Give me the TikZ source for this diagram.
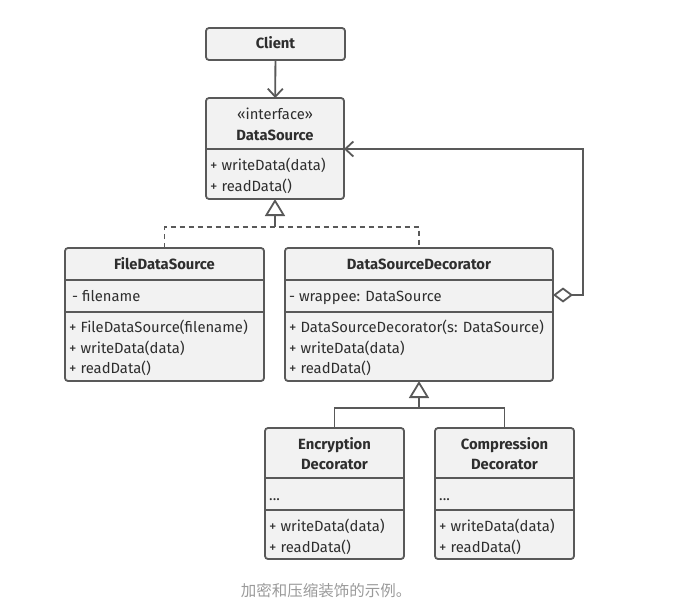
\documentclass[tikz,border=0pt]{standalone}
\usepackage{fontspec}
\setmainfont{Fira Sans}
\newfontfamily\cjk{Noto Sans CJK SC}
\usetikzlibrary{arrows.meta}
\definecolor{linec}{HTML}{595959}
\definecolor{boxfill}{HTML}{F2F2F2}
\definecolor{textc}{HTML}{2E2E2E}
\definecolor{capc}{HTML}{9A9A9A}

\begin{document}
\begin{tikzpicture}[x=1pt,y=-1pt,
  umlbox/.style={draw=linec, fill=boxfill, line width=1.8pt, rounded corners=3pt,
    anchor=north west, inner sep=0pt, outer sep=0pt},
  divider/.style={draw=linec, line width=1.8pt},
  conn/.style={draw=linec, line width=1.8pt},
  realize/.style={conn, dash pattern=on 5pt off 4pt},
  title/.style={anchor=base, inner sep=0pt, text=textc,
    font=\fontsize{14.8}{17}\selectfont\bfseries},
  stereo/.style={anchor=base, inner sep=0pt, text=textc,
    font=\fontsize{14.8}{17}\selectfont},
  member/.style={anchor=base west, inner sep=0pt, text=textc,
    font=\fontsize{14.8}{17}\selectfont},
  openarrow/.style={-{Straight Barb[length=8pt, width=15pt, line width=1.8pt]}},
  inherit/.style={-{Triangle[open, length=17pt, width=20pt, line width=1.8pt, fill=white]}},
]
\useasboundingbox (0,0) rectangle (695,615);

% Client
\node[umlbox, minimum width=139pt, minimum height=32pt] (client) at (206,28) {};
\node[title] (clientT) at (275.5,49) {Client};

% DataSource interface
\node[umlbox, minimum width=138pt, minimum height=101pt] (ds) at (206,98) {};
\draw[divider] (ds.west |- 0,149) -- (ds.east |- 0,149);
\node[stereo] (dsS) at (275,119) {«interface»};
\node[title] (dsT) at (275,140) {DataSource};
\node[member] (dsM1) at (210,170) {+ writeData(data)};
\node[member] (dsM2) at (210,191) {+ readData()};

% FileDataSource
\node[umlbox, minimum width=199pt, minimum height=133pt] (fds) at (65,248) {};
\draw[divider] (fds.west |- 0,280) -- (fds.east |- 0,280);
\draw[divider] (fds.west |- 0,312) -- (fds.east |- 0,312);
\node[title] (fdsT) at (164.5,269) {FileDataSource};
\node[member] (fdsA) at (72,301) {- filename};
\node[member] (fdsM1) at (69,332) {+ FileDataSource(filename)};
\node[member] (fdsM2) at (69,353) {+ writeData(data)};
\node[member] (fdsM3) at (69,373) {+ readData()};

% DataSourceDecorator
\node[umlbox, minimum width=268pt, minimum height=133pt] (dsd) at (285,248) {};
\draw[divider] (dsd.west |- 0,280) -- (dsd.east |- 0,280);
\draw[divider] (dsd.west |- 0,312) -- (dsd.east |- 0,312);
\node[title] (dsdT) at (419,269) {DataSourceDecorator};
\node[member] (dsdA) at (289,301) {- wrappee: DataSource};
\node[member] (dsdM1) at (289,332) {+ DataSourceDecorator(s: DataSource)};
\node[member] (dsdM2) at (289,353) {+ writeData(data)};
\node[member] (dsdM3) at (289,373) {+ readData()};

% Encryption Decorator
\node[umlbox, minimum width=139pt, minimum height=131pt] (enc) at (265,428) {};
\draw[divider] (enc.west |- 0,478) -- (enc.east |- 0,478);
\draw[divider] (enc.west |- 0,510) -- (enc.east |- 0,510);
\node[title] (encT1) at (334.5,449) {Encryption};
\node[title] (encT2) at (334.5,469) {Decorator};
\node[member] (encA) at (269,500) {...};
\node[member] (encM1) at (269,531) {+ writeData(data)};
\node[member] (encM2) at (269,552) {+ readData()};

% Compression Decorator
\node[umlbox, minimum width=139pt, minimum height=131pt] (comp) at (435,428) {};
\draw[divider] (comp.west |- 0,478) -- (comp.east |- 0,478);
\draw[divider] (comp.west |- 0,510) -- (comp.east |- 0,510);
\node[title] (compT1) at (504.5,449) {Compression};
\node[title] (compT2) at (504.5,469) {Decorator};
\node[member] (compA) at (439,500) {...};
\node[member] (compM1) at (439,531) {+ writeData(data)};
\node[member] (compM2) at (439,552) {+ readData()};

% Client uses DataSource
\draw[conn, openarrow] (client) -- (ds);

% Realization of the interface
\coordinate (dsJoin) at (275,227);
\draw[realize] (fds.north) |- (dsJoin) -| (dsd.north);
\draw[conn, inherit] (dsJoin) -- (ds.south);

% Decorator wraps a DataSource
\coordinate (wrapTurn) at (583,149);
\draw[conn, {Diamond[open, length=20pt, width=15pt, line width=1.8pt, fill=white]}-{Straight Barb[length=8pt, width=15pt, line width=1.8pt]}]
  (dsd.east |- 0,295) -| (wrapTurn) -- (ds.east |- wrapTurn);

% Concrete decorators extend the base decorator
\coordinate (decJoin) at (419,408);
\draw[conn] (enc.north) |- (decJoin) -| (comp.north);
\draw[conn, inherit] (decJoin) -- (dsd.south);

% Caption
\node[anchor=base, inner sep=0pt, text=capc, font=\cjk\fontsize{15.5}{18}\selectfont] (caption) at (326,596) {加密和压缩装饰的示例。};
\end{tikzpicture}
\end{document}
